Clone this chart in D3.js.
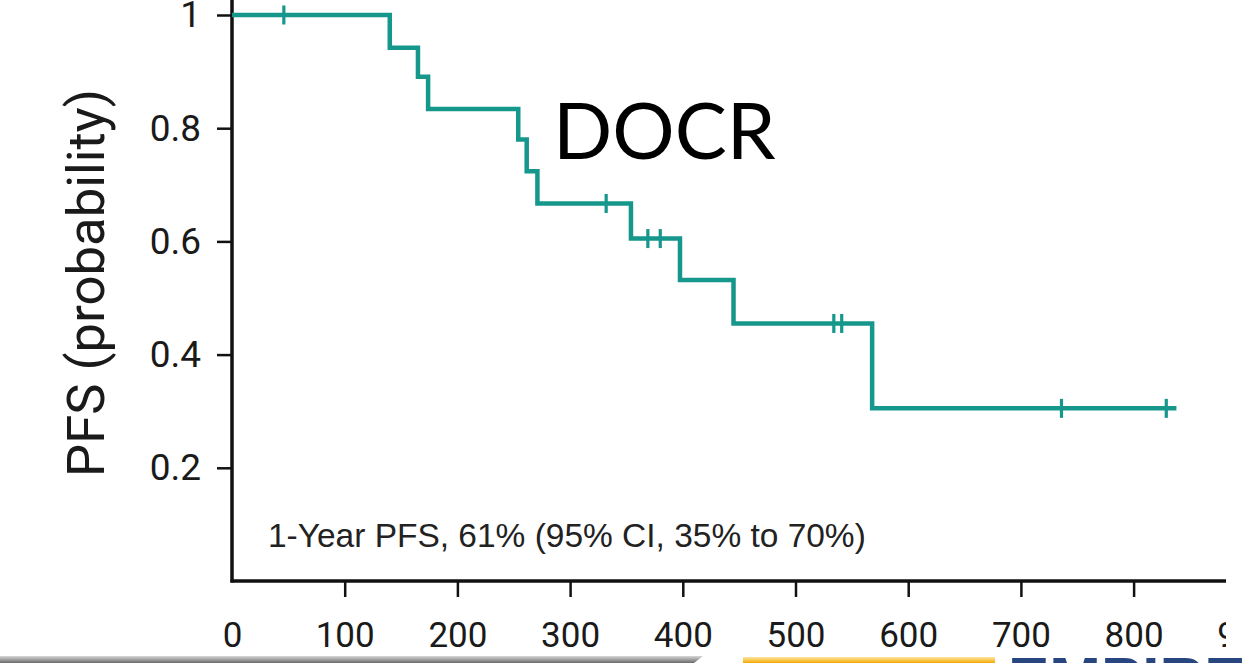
<!DOCTYPE html>
<html>
<head>
<meta charset="utf-8">
<script src="https://cdn.jsdelivr.net/npm/d3@7"></script>
<style>
  html, body { margin: 0; padding: 0; background: #fff; }
  svg { display: block; }
</style>
</head>
<body>
<svg id="chart" width="1255" height="663"></svg>
<script>
// ---- Data ----
const eventTimes = [140, 165, 174, 254, 261.5, 271, 354, 397.5, 445, 568];
const survivalAfter = [0.942, 0.891, 0.834, 0.780, 0.724, 0.667, 0.605, 0.532, 0.455, 0.305];
const censorTimes = [46, 332, 369, 380, 534, 541, 736, 829];
const lastFollowUp = 838;
const xTicks = [0, 100, 200, 300, 400, 500, 600, 700, 800, 900];
const yTicks = [0.2, 0.4, 0.6, 0.8, 1];
const yLabel = "PFS (probability)";
const note = "1-Year PFS, 61% (95% CI, 35% to 70%)";
const title = "DOCR";

// ---- Layout ----
const svg = d3.select("#chart");
const teal = "#16978b";

const x = d3.scaleLinear().domain([0, 900]).range([232, 1246.3]);
const y = d3.scaleLinear().domain([0, 1]).range([581, 15]);

svg.append("defs").append("clipPath").attr("id", "clipChart")
  .append("rect").attr("x", 0).attr("y", 0).attr("width", 1226).attr("height", 656);

const g = svg.append("g").attr("clip-path", "url(#clipChart)");

function survAt(t) {
  let s = 1;
  for (let i = 0; i < eventTimes.length; i++) if (eventTimes[i] <= t) s = survivalAfter[i];
  return s;
}
const pts = [[0, 1]].concat(eventTimes.map((t, i) => [t, survivalAfter[i]]))
  .concat([[lastFollowUp, survivalAfter[survivalAfter.length - 1]]]);

const line = d3.line().x(d => x(d[0])).y(d => y(d[1])).curve(d3.curveStepAfter);

// fit a text element to a target width
function fitWidth(sel, target) {
  const fs = +sel.attr("font-size");
  const w = sel.node().getComputedTextLength();
  sel.attr("font-size", fs * target / w);
}

// Axes
const yAxis = d3.axisLeft(y).tickValues(yTicks).tickSize(15).tickPadding(16)
  .tickFormat(d => d === 1 ? "1" : d3.format(".1f")(d));
const yG = g.append("g").attr("transform", `translate(${x(0)},0)`).call(yAxis);
yG.select(".domain").remove();
yG.append("line").attr("x1", 0).attr("x2", 0).attr("y1", 0).attr("y2", y(0) + 1.5)
  .attr("stroke", "#111").attr("stroke-width", 3.5);
yG.selectAll(".tick line").attr("stroke", "#111").attr("stroke-width", 2.5);
yG.selectAll(".tick text").attr("font-family", "Roboto").attr("font-size", 37)
  .attr("fill", "#1a1a1a");

const xAxis = d3.axisBottom(x).tickValues(xTicks).tickSize(0).tickPadding(0).tickFormat(d3.format("d"));
const xG = g.append("g").attr("transform", `translate(0,${y(0)})`).call(xAxis);
xG.select(".domain").remove();
xG.append("line").attr("x1", x(0) - 1.5).attr("x2", 1226).attr("y1", 0).attr("y2", 0)
  .attr("stroke", "#111").attr("stroke-width", 3.5);
xG.selectAll(".tick").filter(d => d !== 0).append("line")
  .attr("x1", 0).attr("x2", 0).attr("y1", 1).attr("y2", 16)
  .attr("stroke", "#111").attr("stroke-width", 2.5);
xG.selectAll(".tick text").attr("font-family", "Roboto").attr("font-size", 35)
  .attr("fill", "#1a1a1a").attr("dy", null).attr("y", 66);

// Curve
g.append("path").datum(pts).attr("d", line).attr("fill", "none")
  .attr("stroke", teal).attr("stroke-width", 4.5).attr("stroke-linejoin", "miter");

// Censor marks
g.selectAll(".cens").data(censorTimes).enter().append("line")
  .attr("x1", d => x(d)).attr("x2", d => x(d))
  .attr("y1", d => y(survAt(d)) - 9.5).attr("y2", d => y(survAt(d)) + 9.5)
  .attr("stroke", teal).attr("stroke-width", 3.2);

// Y label
const yl = g.append("text").attr("transform", "translate(104,283) rotate(-90)")
  .attr("text-anchor", "middle").attr("font-family", "Roboto").attr("font-size", 46)
  .attr("fill", "#1a1a1a").text(yLabel);
fitWidth(yl, 388);

// Note
const nt = g.append("text").attr("x", 268).attr("y", 547).attr("font-family", "Liberation Sans")
  .attr("font-size", 28).attr("fill", "#222").text(note);
fitWidth(nt, 598);

// DOCR title (slide overlay)
svg.append("text").attr("x", 553).attr("y", 159).attr("font-family", "Lato")
  .attr("font-size", 78).attr("fill", "#000").text(title);

// ---- Bottom decorative strip (slide footer) ----
const defs = svg.select("defs");
const gg = defs.append("linearGradient").attr("id", "grayG").attr("x1", 0).attr("y1", 0).attr("x2", 0).attr("y2", 1);
gg.append("stop").attr("offset", "0%").attr("stop-color", "#d8d8d8");
gg.append("stop").attr("offset", "100%").attr("stop-color", "#6a6a6a");
const og = defs.append("linearGradient").attr("id", "orG").attr("x1", 0).attr("y1", 0).attr("x2", 0).attr("y2", 1);
og.append("stop").attr("offset", "0%").attr("stop-color", "#fde7a6");
og.append("stop").attr("offset", "100%").attr("stop-color", "#f5a800");

svg.append("path").attr("d", `M0,656 L703,656 L694,663 L0,663 Z`).attr("fill", "url(#grayG)");
svg.append("rect").attr("x", 743).attr("y", 657).attr("width", 252).attr("height", 6).attr("fill", "url(#orG)");
svg.append("text").attr("x", 1008).attr("y", 700).attr("font-family", "Liberation Sans")
  .attr("font-weight", "bold").attr("font-size", 62).attr("fill", "#27467f").text("EMPIRE");
</script>
</body>
</html>
